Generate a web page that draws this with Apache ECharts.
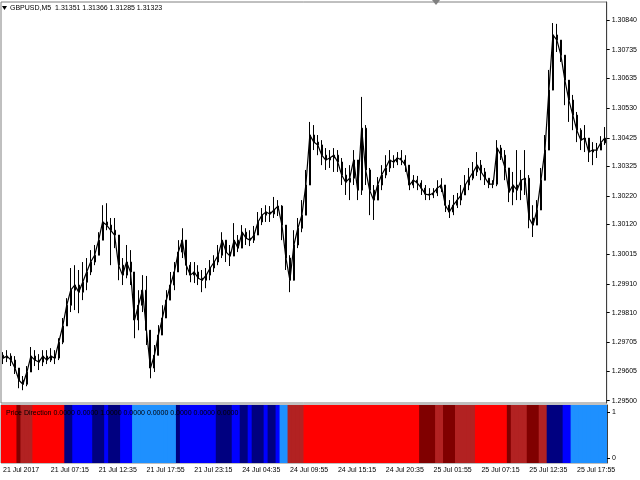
<!DOCTYPE html>
<html><head><meta charset="utf-8">
<script src="https://cdn.jsdelivr.net/npm/echarts@6/dist/echarts.min.js"></script>
<style>html,body{margin:0;padding:0;background:#fff}#c{width:640px;height:480px}</style>
</head><body><div id="c"></div>
<script>
const symbolTitle = 'GBPUSD,M5  1.31351 1.31366 1.31285 1.31323';
const indicatorTitle = 'Price Direction 0.0000 0.0000 1.0000 0.0000 0.0000 0.0000 0.0000 0.0000';
const timeLabels = ['21 Jul 2017','21 Jul 07:15','21 Jul 12:35','21 Jul 17:55','21 Jul 23:15','24 Jul 04:35',
  '24 Jul 09:55','24 Jul 15:15','24 Jul 20:35','25 Jul 01:55','25 Jul 07:15','25 Jul 12:35','25 Jul 17:55'];
const priceTicks = ['1.29500','1.29605','1.29705','1.29810','1.29910','1.30015','1.30120',
  '1.30220','1.30325','1.30425','1.30530','1.30635','1.30735','1.30840'];
const indicatorTicks = [0, 1];
const firstOpen = 1.29660;
const closes = [
 1.29650,1.29657,1.29643,1.29615,1.29572,1.29558,1.29601,1.29657,1.29643,1.29636,
 1.29657,1.29643,1.29657,1.29650,1.29706,1.29763,1.29836,1.29889,1.29907,1.29882,
 1.29917,1.29953,1.29988,1.30012,1.30065,1.30129,1.30118,1.30100,1.30083,1.29977,
 1.29942,1.29988,1.29953,1.29784,1.29836,1.29889,1.29748,1.29615,1.29660,1.29731,
 1.29791,1.29854,1.29907,1.29953,1.30023,1.30065,1.29977,1.29942,1.29953,1.29931,
 1.29924,1.29942,1.29967,1.29988,1.30012,1.30065,1.30023,1.30009,1.30065,1.30037,
 1.30093,1.30072,1.30065,1.30083,1.30129,1.30153,1.30164,1.30157,1.30171,1.30185,
 1.30118,1.30002,1.29924,1.30048,1.30107,1.30153,1.30259,1.30435,1.30410,1.30400,
 1.30364,1.30347,1.30354,1.30364,1.30340,1.30294,1.30269,1.30283,1.30347,1.30241,
 1.30459,1.30312,1.30241,1.30206,1.30259,1.30294,1.30319,1.30347,1.30340,1.30354,
 1.30347,1.30329,1.30259,1.30276,1.30266,1.30248,1.30227,1.30224,1.30231,1.30248,
 1.30259,1.30188,1.30164,1.30188,1.30206,1.30224,1.30259,1.30283,1.30305,1.30329,
 1.30305,1.30283,1.30262,1.30262,1.30389,1.30364,1.30319,1.30234,1.30259,1.30241,
 1.30276,1.30283,1.30143,1.30118,1.30171,1.30276,1.30382,1.30593,1.30787,1.30769,
 1.30716,1.30628,1.30558,1.30505,1.30452,1.30417,1.30424,1.30375,1.30382,1.30382,
 1.30407,1.30424];
const highs = [
 1.29671,1.29678,1.29667,1.29657,1.29615,1.29587,1.29622,1.29689,1.29678,1.29664,
 1.29678,1.29678,1.29685,1.29678,1.29720,1.29791,1.29861,1.29967,1.29977,1.29960,
 1.29988,1.30002,1.30030,1.30048,1.30093,1.30188,1.30195,1.30143,1.30143,1.30065,
 1.30002,1.30048,1.30030,1.29942,1.29889,1.29942,1.29939,1.29713,1.29696,1.29766,
 1.29836,1.29889,1.29953,1.29988,1.30065,1.30107,1.30048,1.29988,1.29988,1.29977,
 1.29960,1.29967,1.29995,1.30012,1.30048,1.30093,1.30065,1.30048,1.30125,1.30083,
 1.30118,1.30107,1.30100,1.30115,1.30164,1.30178,1.30188,1.30185,1.30217,1.30206,
 1.30188,1.30083,1.30012,1.30100,1.30143,1.30206,1.30312,1.30481,1.30470,1.30435,
 1.30417,1.30389,1.30382,1.30389,1.30382,1.30354,1.30319,1.30329,1.30382,1.30347,
 1.30569,1.30470,1.30319,1.30259,1.30287,1.30329,1.30364,1.30382,1.30364,1.30375,
 1.30382,1.30364,1.30312,1.30294,1.30291,1.30276,1.30259,1.30248,1.30248,1.30276,
 1.30283,1.30248,1.30206,1.30224,1.30231,1.30259,1.30294,1.30319,1.30340,1.30375,
 1.30347,1.30319,1.30283,1.30276,1.30417,1.30400,1.30382,1.30312,1.30305,1.30382,
 1.30312,1.30382,1.30294,1.30188,1.30206,1.30319,1.30435,1.30664,1.30829,1.30826,
 1.30769,1.30699,1.30621,1.30576,1.30516,1.30459,1.30470,1.30417,1.30410,1.30407,
 1.30431,1.30463];
const lows = [
 1.29629,1.29636,1.29622,1.29594,1.29544,1.29537,1.29551,1.29601,1.29622,1.29608,
 1.29622,1.29629,1.29636,1.29629,1.29643,1.29699,1.29763,1.29812,1.29819,1.29808,
 1.29854,1.29889,1.29942,1.29977,1.30012,1.30065,1.30100,1.29977,1.30037,1.29924,
 1.29907,1.29931,1.29907,1.29720,1.29748,1.29812,1.29696,1.29579,1.29601,1.29678,
 1.29731,1.29791,1.29861,1.29889,1.29967,1.30002,1.29942,1.29917,1.29914,1.29907,
 1.29882,1.29896,1.29924,1.29953,1.29977,1.30002,1.29988,1.29974,1.30012,1.30023,
 1.30037,1.30048,1.30044,1.30055,1.30083,1.30118,1.30129,1.30129,1.30143,1.30150,
 1.30065,1.29960,1.29882,1.29960,1.30037,1.30093,1.30153,1.30259,1.30382,1.30364,
 1.30329,1.30312,1.30319,1.30305,1.30305,1.30259,1.30224,1.30206,1.30259,1.30206,
 1.30224,1.30259,1.30153,1.30136,1.30206,1.30241,1.30283,1.30305,1.30319,1.30329,
 1.30329,1.30305,1.30241,1.30248,1.30241,1.30224,1.30206,1.30206,1.30213,1.30220,
 1.30234,1.30164,1.30143,1.30153,1.30178,1.30188,1.30224,1.30241,1.30276,1.30291,
 1.30276,1.30259,1.30248,1.30248,1.30255,1.30347,1.30276,1.30199,1.30188,1.30206,
 1.30206,1.30224,1.30107,1.30076,1.30129,1.30224,1.30312,1.30417,1.30664,1.30727,
 1.30692,1.30540,1.30481,1.30452,1.30410,1.30382,1.30375,1.30340,1.30329,1.30354,
 1.30382,1.30400];
// indicator state per sampled bar, run-length encoded: [state, count]
const directionRuns = [['R',4],['M',1],['F',3],['R',8],['N',2],['B',5],['N',3],['B',1],['N',3],['B',3],
  ['D',11],['N',1],['B',9],['N',4],['B',2],['N',2],['B',1],['N',3],['B',1],['N',2],['B',1],['D',2],
  ['F',4],['R',29],['M',4],['F',2],['M',3],['F',5],['R',8],['M',1],['F',4],['M',3],['F',2],['N',4],
  ['B',2],['D',9]];
const directionColors = {R:'#FF0000',F:'#B22222',M:'#800000',B:'#0000FF',N:'#000080',D:'#1E90FF'};

const categories = closes.map((_, i) => i);
const candles = closes.map((c, i) => [i === 0 ? firstOpen : closes[i - 1], c, lows[i], highs[i]]);
const states = [];
directionRuns.forEach(([s, n]) => { for (let k = 0; k < n; k++) states.push(s); });
const directionBars = states.map(s => ({value: 1, itemStyle: {color: directionColors[s]}}));
const priceTickValues = priceTicks.map(Number);

const FONT = 'Liberation Sans';
const chart = echarts.init(document.getElementById('c'), null, {renderer: 'canvas'});
chart.setOption({
  animation: false,
  backgroundColor: '#ffffff',
  textStyle: {fontFamily: FONT},
  title: [
    {text: symbolTitle, left: 10, top: 5, padding: 0, textStyle: {fontSize: 7, fontWeight: 'normal', color: '#000', fontFamily: FONT}},
    {text: indicatorTitle, left: 6, top: 410, padding: 0, z: 10, textStyle: {fontSize: 7, fontWeight: 'normal', color: '#000', fontFamily: FONT}}
  ],
  graphic: [
    {type: 'polygon', shape: {points: [[2, 6], [7, 6], [4.5, 10]]}, style: {fill: '#000'}},
    {type: 'polygon', shape: {points: [[432, 0], [440, 0], [436, 5]]}, style: {fill: '#808080'}}
  ],
  grid: [
    {left: 1, right: 33, top: 2, height: 401, show: true, borderColor: '#808080', borderWidth: 1, backgroundColor: 'transparent'},
    {left: 1, right: 33, top: 405, height: 58, show: true, borderColor: '#808080', borderWidth: 1, backgroundColor: 'transparent'}
  ],
  xAxis: [
    {type: 'category', gridIndex: 0, data: categories, boundaryGap: true,
     axisLine: {show: false}, axisTick: {show: false}, axisLabel: {show: false}, splitLine: {show: false}},
    {type: 'category', gridIndex: 1, data: categories, boundaryGap: true,
     axisLine: {show: false},
     axisTick: {show: true, alignWithLabel: true, interval: 11, length: 4, lineStyle: {color: '#000'}},
     axisLabel: {interval: 11, align: 'left', margin: 4, fontSize: 7, color: '#000', fontFamily: FONT,
       formatter: (v, i) => timeLabels[Math.round(i / 12)] || ''},
     splitLine: {show: false}}
  ],
  yAxis: [
    {type: 'value', gridIndex: 0, position: 'right', min: 1.29492, max: 1.30903, scale: true,
     axisLine: {show: true, lineStyle: {color: '#404040'}},
     axisTick: {show: true, length: 3, customValues: priceTickValues, lineStyle: {color: '#000'}},
     axisLabel: {customValues: priceTickValues, showMinLabel: true, showMaxLabel: true, hideOverlap: false,
       formatter: v => v.toFixed(5), margin: 5, fontSize: 7, color: '#000', fontFamily: FONT},
     splitLine: {show: false}},
    {type: 'value', gridIndex: 1, position: 'right', min: -0.1, max: 1.15,
     axisLine: {show: true, lineStyle: {color: '#404040'}},
     axisTick: {show: true, length: 3, customValues: indicatorTicks, lineStyle: {color: '#000'}},
     axisLabel: {customValues: indicatorTicks, showMinLabel: true, showMaxLabel: true,
       formatter: v => String(v), margin: 5, fontSize: 7, color: '#000', fontFamily: FONT},
     splitLine: {show: false}},
    {type: 'value', gridIndex: 1, min: 0, max: 1, show: false}
  ],
  series: [
    {type: 'line', xAxisIndex: 0, yAxisIndex: 0, data: closes, showSymbol: false, silent: true,
     lineStyle: {color: '#000', width: 1.2}},
    {type: 'candlestick', xAxisIndex: 0, yAxisIndex: 0, data: candles, barWidth: 1.5, silent: true,
     itemStyle: {color: '#000', color0: '#000', borderColor: '#000', borderColor0: '#000', borderWidth: 1}},
    {type: 'bar', xAxisIndex: 1, yAxisIndex: 2, data: directionBars, barWidth: 5, barGap: '-100%', silent: true}
  ]
});
</script>
</body></html>
